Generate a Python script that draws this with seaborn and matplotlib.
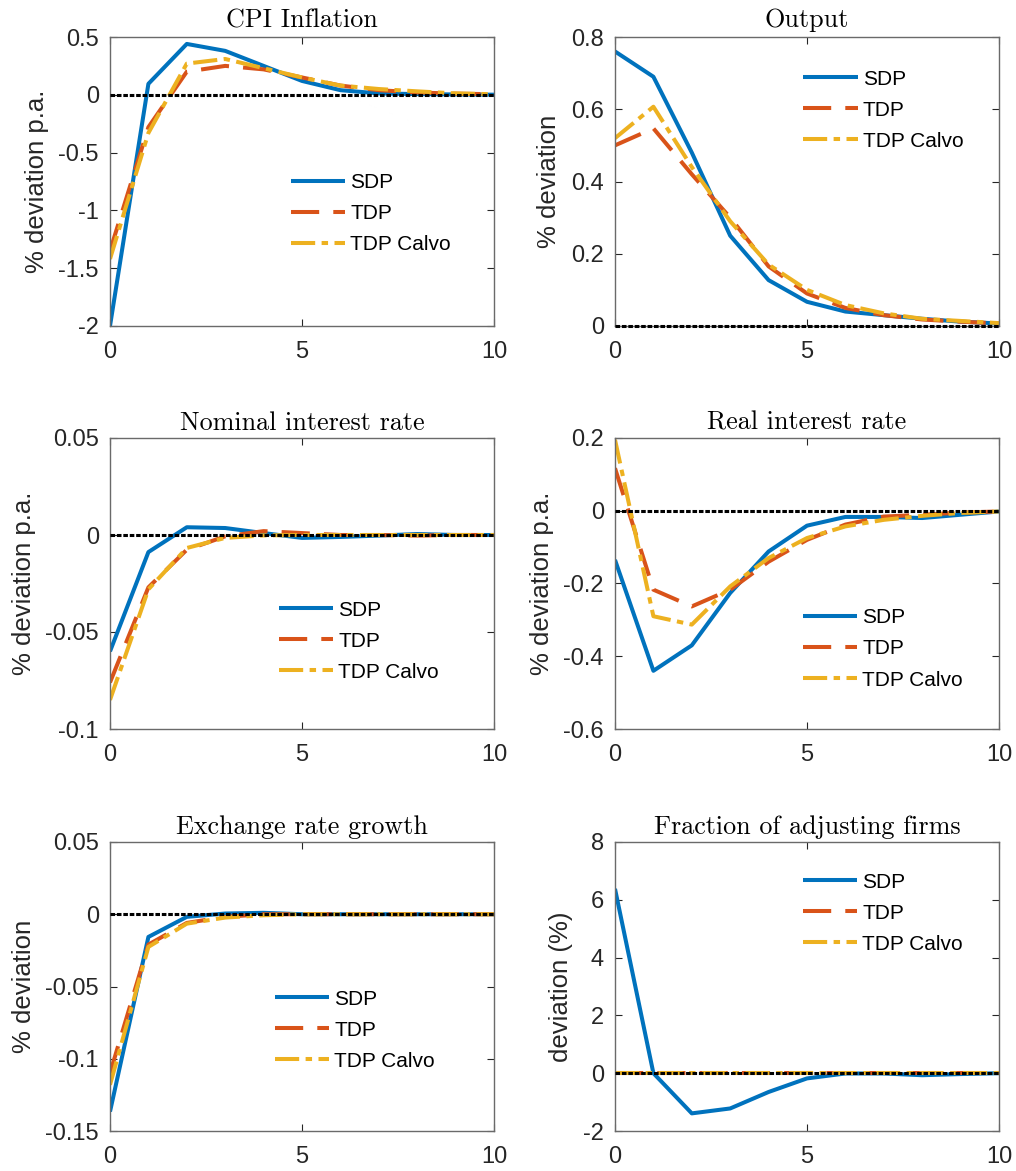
import numpy as np
import pandas as pd
import matplotlib
matplotlib.use("Agg")
import matplotlib.pyplot as plt
import seaborn as sns
from matplotlib.ticker import FuncFormatter

# ---------------- data ----------------
periods = list(range(11))
models = ["SDP", "TDP", "TDP Calvo"]

cpi_sdp   = [-2.00, 0.095, 0.44, 0.38, 0.25, 0.12, 0.04, 0.012, 0.006, 0.003, 0.001]
cpi_tdp   = [-1.35, -0.28, 0.20, 0.25, 0.22, 0.15, 0.08, 0.04, 0.02, 0.01, 0.005]
cpi_calvo = [-1.42, -0.33, 0.27, 0.31, 0.23, 0.15, 0.08, 0.05, 0.03, 0.012, 0.005]

out_sdp   = [0.76, 0.69, 0.48, 0.25, 0.127, 0.067, 0.04, 0.03, 0.02, 0.012, 0.007]
out_tdp   = [0.50, 0.547, 0.42, 0.30, 0.165, 0.09, 0.05, 0.03, 0.018, 0.012, 0.007]
out_calvo = [0.52, 0.607, 0.44, 0.29, 0.17, 0.10, 0.058, 0.035, 0.02, 0.014, 0.008]

nom_sdp   = [-0.060, -0.0088, 0.0040, 0.0036, 0.0010, -0.0015, -0.0010, -0.0003, 0.0005, 0.0, 0.0]
nom_tdp   = [-0.076, -0.027, -0.0076, -0.0007, 0.0020, 0.0010, 0.0, 0.0, -0.0003, 0.0, 0.0]
nom_calvo = [-0.085, -0.028, -0.0067, -0.0015, -0.0002, 0.0, 0.0, 0.0, 0.0, 0.0, 0.0]

real_sdp   = [-0.135, -0.44, -0.37, -0.226, -0.112, -0.041, -0.017, -0.017, -0.020, -0.011, -0.002]
real_tdp   = [0.117, -0.217, -0.263, -0.217, -0.14, -0.08, -0.038, -0.016, -0.011, -0.005, -0.002]
real_calvo = [0.195, -0.29, -0.313, -0.208, -0.13, -0.075, -0.043, -0.025, -0.014, -0.006, -0.002]

exch_sdp   = [-0.1366, -0.0157, -0.0018, 0.0005, 0.0010, 0.0, 0.0, 0.0, 0.0, 0.0, 0.0]
exch_tdp   = [-0.110, -0.021, -0.006, -0.0018, 0.0, 0.0, 0.0, 0.0, 0.0, 0.0, 0.0]
exch_calvo = [-0.118, -0.0226, -0.0065, -0.0023, -0.0007, 0.0, 0.0, 0.0, 0.0, 0.0, 0.0]

frac_sdp   = [6.38, 0.0, -1.39, -1.22, -0.65, -0.18, -0.01, -0.01, -0.07, -0.03, 0.0]
frac_tdp   = [0.0] * 11
frac_calvo = [0.0] * 11

titles = ["CPI Inflation", "Output", "Nominal interest rate",
          "Real interest rate", "Exchange rate growth", "Fraction of adjusting firms"]
ylabels = ["% deviation p.a.", "% deviation", "% deviation p.a.",
           "% deviation p.a.", "% deviation", "deviation (%)"]
yticks_list = [[-2, -1.5, -1, -0.5, 0, 0.5],
               [0, 0.2, 0.4, 0.6, 0.8],
               [-0.1, -0.05, 0, 0.05],
               [-0.6, -0.4, -0.2, 0, 0.2],
               [-0.15, -0.1, -0.05, 0, 0.05],
               [-2, 0, 2, 4, 6, 8]]
xticks = [0, 5, 10]

series = [(cpi_sdp, cpi_tdp, cpi_calvo),
          (out_sdp, out_tdp, out_calvo),
          (nom_sdp, nom_tdp, nom_calvo),
          (real_sdp, real_tdp, real_calvo),
          (exch_sdp, exch_tdp, exch_calvo),
          (frac_sdp, frac_tdp, frac_calvo)]

# ---------------- style ----------------
plt.rcParams["font.family"] = ["Liberation Sans", "DejaVu Sans"]
plt.rcParams["axes.unicode_minus"] = False

colors = {"SDP": "#0072BD", "TDP": "#D95319", "TDP Calvo": "#EDB120"}
dash_styles = {"SDP": (0, ()), "TDP": (0, (7, 3.5)), "TDP Calvo": (0, (6, 1.6, 1.6, 1.6))}

legend_pos = [(0.68, 0.388), (0.699, 0.747), (0.648, 0.302),
              (0.698, 0.275), (0.638, 0.349), (0.698, 0.754)]

fig = plt.figure(figsize=(10.16, 11.71), dpi=100)
W, H = 1016, 1171
lefts = [110, 615]
tops = [37, 438, 842]
bottoms = [326, 729, 1131]
aw = 384

for i in range(6):
    r, c = divmod(i, 2)
    l = lefts[c]
    t, b = tops[r], bottoms[r]
    ax = fig.add_axes([l / W, 1 - b / H, aw / W, (b - t) / H])
    df = pd.DataFrame({
        "period": periods * 3,
        "value": list(series[i][0]) + list(series[i][1]) + list(series[i][2]),
        "model": sum([[m] * 11 for m in models], []),
    })
    for m in models:
        sub = df[df["model"] == m]
        sns.lineplot(data=sub, x="period", y="value", color=colors[m],
                     linewidth=2.9, label=m, ax=ax, legend=False)
        ax.lines[-1].set_linestyle(dash_styles[m])
    handles = list(ax.lines)
    ax.axhline(0, color="black", linewidth=2.2, linestyle=(0, (1.5, 0.6)),
               zorder=5, clip_on=False)

    yt = yticks_list[i]
    ax.set_xlim(0, 10)
    ax.set_ylim(yt[0], yt[-1])
    ax.set_xticks(xticks)
    ax.set_yticks(yt)
    ax.yaxis.set_major_formatter(FuncFormatter(lambda v, p: "{:g}".format(round(v, 6))))
    ax.tick_params(direction="in", length=5, width=0.8, top=True, right=True,
                   labelsize=17, colors="#262626")
    ax.tick_params(axis="x", pad=11)
    ax.tick_params(axis="y", pad=8)
    for s in ax.spines.values():
        s.set_color("#6a6a6a")
        s.set_linewidth(1.0)
    ax.set_xlabel("")
    ax.set_ylabel(ylabels[i], fontsize=18.5, color="#262626", labelpad=7)
    ax.set_title(titles[i], fontsize=18.8, family="cmr10", pad=7 if r == 0 else 6)
    ax.legend(handles=handles, labels=models, loc="center",
              bbox_to_anchor=legend_pos[i], frameon=False, fontsize=15,
              handlelength=2.6, handletextpad=0.25, labelspacing=0.58,
              borderpad=0.1)

fig.savefig("out.png", dpi=100)
